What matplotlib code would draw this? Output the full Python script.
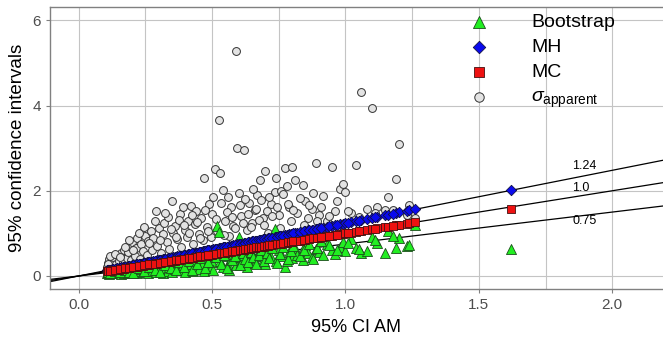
import numpy as np
import matplotlib
matplotlib.use('Agg')
import matplotlib.pyplot as plt
from matplotlib.ticker import MultipleLocator

plt.rcParams['font.family'] = ['Liberation Sans', 'DejaVu Sans']
plt.rcParams['mathtext.fontset'] = 'custom'
plt.rcParams['mathtext.rm'] = 'Liberation Sans'
plt.rcParams['mathtext.it'] = 'Liberation Sans:italic'

# 95% CI AM (one value per data set)
ci_am = [0.105, 0.11, 0.115, 0.12, 0.125, 0.13, 0.14, 0.145, 0.15, 0.16, 0.165, 0.17, 0.18, 0.185, 0.19, 0.195,
         0.20, 0.21, 0.215, 0.22, 0.23, 0.235, 0.24, 0.25, 0.255, 0.26, 0.27, 0.275, 0.28, 0.29, 0.295,
         0.30, 0.31, 0.315, 0.32, 0.33, 0.335, 0.34, 0.35, 0.355, 0.36, 0.37, 0.38, 0.385, 0.39,
         0.40, 0.405, 0.41, 0.42, 0.43, 0.435, 0.44, 0.45, 0.46, 0.465, 0.47, 0.48, 0.49, 0.495,
         0.50, 0.505, 0.51, 0.52, 0.525, 0.53, 0.54, 0.55, 0.56, 0.565, 0.57, 0.58, 0.59, 0.595,
         0.60, 0.61, 0.62, 0.63, 0.64, 0.65, 0.66, 0.67, 0.68, 0.69,
         0.70, 0.71, 0.72, 0.735, 0.74, 0.75, 0.76, 0.775, 0.78, 0.79,
         0.80, 0.81, 0.82, 0.84, 0.85, 0.86, 0.875, 0.89,
         0.90, 0.915, 0.93, 0.95, 0.96, 0.98, 0.99,
         1.00, 1.02, 1.04, 1.06, 1.08, 1.10,
         1.12, 1.15, 1.16, 1.19, 1.20, 1.23, 1.24, 1.26,
         1.62,
         0.112, 0.118, 0.135, 0.155, 0.175, 0.188, 0.205, 0.225, 0.245, 0.265,
         0.285, 0.305, 0.325, 0.345, 0.365, 0.375, 0.395, 0.415, 0.425, 0.445,
         0.455, 0.475, 0.485, 0.515, 0.535, 0.545, 0.555, 0.575, 0.585, 0.605,
         0.615, 0.625, 0.635, 0.645, 0.655, 0.665, 0.675, 0.685, 0.695, 0.705,
         0.715, 0.725, 0.745, 0.755, 0.765, 0.785, 0.795, 0.805, 0.83, 0.845,
         0.865, 0.88, 0.895, 0.91, 0.94, 0.97, 1.01, 1.05, 1.11, 1.18]

bootstrap = [0.06, 0.09, 0.05, 0.08, 0.10, 0.06, 0.09, 0.07, 0.11, 0.05, 0.10, 0.08, 0.12, 0.06, 0.09, 0.13,
             0.07, 0.11, 0.15, 0.06, 0.12, 0.17, 0.09, 0.14, 0.20, 0.07, 0.16, 0.11, 0.22, 0.09, 0.18,
             0.13, 0.24, 0.08, 0.19, 0.27, 0.12, 0.21, 0.10, 0.29, 0.16, 0.23, 0.31, 0.14, 0.26,
             0.09, 0.33, 0.20, 0.28, 0.12, 0.35, 0.24, 0.17, 0.38, 0.30, 0.11, 0.26, 0.41, 0.19,
             0.33, 0.14, 0.44, 1.18, 1.03, 0.36, 0.22, 0.47, 0.29, 0.15, 0.40, 0.52, 0.25, 0.44,
             0.92, 0.34, 0.49, 0.20, 0.42, 0.55, 0.30, 0.47, 0.58, 0.37,
             0.27, 0.52, 0.44, 1.10, 0.35, 0.60, 0.48, 0.22, 0.35, 0.56,
             0.42, 0.66, 0.50, 0.38, 0.72, 0.55, 0.45, 0.63,
             0.57, 0.49, 0.76, 0.61, 0.52, 0.69, 0.80,
             0.58, 0.86, 0.66, 0.55, 0.58, 0.92,
             0.78, 0.55, 1.05, 0.66, 0.88, 0.70, 0.73, 1.20,
             0.63,
             0.10, 0.07, 0.12, 0.09, 0.14, 0.10, 0.08, 0.18, 0.12, 0.21,
             0.15, 0.10, 0.25, 0.18, 0.13, 0.32, 0.22, 0.36, 0.15, 0.27,
             0.42, 0.19, 0.34, 0.45, 0.28, 0.50, 0.18, 0.38, 0.48, 0.26,
             0.53, 0.40, 0.32, 0.57, 0.45, 0.28, 0.50, 0.62, 0.36, 0.55,
             0.43, 0.66, 0.30, 0.52, 0.68, 0.40, 0.58, 0.70, 0.47, 0.62,
             0.74, 0.40, 0.66, 0.82, 0.72, 0.60, 0.78, 0.64, 0.85, 0.95]

mh = [0.13, 0.14, 0.14, 0.15, 0.16, 0.16, 0.17, 0.18, 0.19, 0.20, 0.21, 0.21, 0.22, 0.23, 0.24, 0.24,
      0.25, 0.26, 0.27, 0.27, 0.29, 0.29, 0.30, 0.31, 0.32, 0.32, 0.33, 0.34, 0.35, 0.36, 0.37,
      0.37, 0.38, 0.39, 0.40, 0.41, 0.42, 0.42, 0.43, 0.44, 0.45, 0.46, 0.47, 0.48, 0.48,
      0.50, 0.50, 0.51, 0.52, 0.53, 0.54, 0.55, 0.56, 0.57, 0.58, 0.58, 0.60, 0.61, 0.61,
      0.62, 0.63, 0.63, 0.64, 0.65, 0.66, 0.67, 0.68, 0.69, 0.70, 0.71, 0.72, 0.73, 0.74,
      0.74, 0.76, 0.77, 0.78, 0.79, 0.81, 0.82, 0.83, 0.84, 0.86,
      0.87, 0.88, 0.89, 0.91, 0.92, 0.93, 0.94, 0.96, 0.97, 0.98,
      0.99, 1.00, 1.02, 1.04, 1.05, 1.07, 1.08, 1.10,
      1.12, 1.13, 1.15, 1.18, 1.19, 1.21, 1.23,
      1.24, 1.27, 1.29, 1.31, 1.34, 1.36,
      1.39, 1.43, 1.44, 1.48, 1.49, 1.52, 1.54, 1.58,
      2.02,
      0.14, 0.15, 0.17, 0.19, 0.22, 0.23, 0.25, 0.28, 0.30, 0.33,
      0.35, 0.38, 0.40, 0.43, 0.45, 0.47, 0.49, 0.51, 0.53, 0.55,
      0.56, 0.59, 0.60, 0.64, 0.66, 0.68, 0.69, 0.71, 0.73, 0.75,
      0.76, 0.78, 0.79, 0.80, 0.81, 0.83, 0.84, 0.85, 0.86, 0.87,
      0.89, 0.90, 0.92, 0.94, 0.95, 0.97, 0.99, 1.00, 1.03, 1.05,
      1.07, 1.09, 1.11, 1.13, 1.17, 1.20, 1.25, 1.30, 1.38, 1.46]

mc = [0.11, 0.11, 0.12, 0.12, 0.13, 0.13, 0.14, 0.15, 0.15, 0.16, 0.17, 0.17, 0.18, 0.19, 0.19, 0.20,
      0.20, 0.21, 0.22, 0.22, 0.23, 0.24, 0.24, 0.25, 0.26, 0.26, 0.27, 0.28, 0.28, 0.29, 0.30,
      0.30, 0.31, 0.32, 0.32, 0.33, 0.34, 0.34, 0.35, 0.36, 0.36, 0.37, 0.38, 0.39, 0.39,
      0.40, 0.41, 0.41, 0.42, 0.43, 0.44, 0.44, 0.45, 0.46, 0.47, 0.47, 0.48, 0.49, 0.50,
      0.50, 0.51, 0.51, 0.52, 0.53, 0.53, 0.54, 0.55, 0.56, 0.57, 0.57, 0.58, 0.59, 0.60,
      0.60, 0.61, 0.62, 0.63, 0.64, 0.65, 0.66, 0.67, 0.68, 0.69,
      0.70, 0.71, 0.72, 0.74, 0.74, 0.75, 0.76, 0.78, 0.78, 0.79,
      0.80, 0.81, 0.82, 0.84, 0.85, 0.86, 0.88, 0.89,
      0.90, 0.92, 0.93, 0.95, 0.96, 0.98, 0.99,
      1.00, 1.02, 1.04, 1.06, 1.08, 1.10,
      1.12, 1.15, 1.16, 1.19, 1.20, 1.23, 1.24, 1.27,
      1.57,
      0.11, 0.12, 0.14, 0.16, 0.18, 0.19, 0.21, 0.23, 0.25, 0.27,
      0.29, 0.31, 0.33, 0.35, 0.37, 0.38, 0.40, 0.42, 0.43, 0.45,
      0.46, 0.48, 0.49, 0.52, 0.54, 0.55, 0.56, 0.58, 0.59, 0.61,
      0.62, 0.63, 0.64, 0.65, 0.66, 0.67, 0.68, 0.69, 0.70, 0.71,
      0.72, 0.73, 0.75, 0.76, 0.77, 0.79, 0.80, 0.81, 0.83, 0.85,
      0.87, 0.88, 0.90, 0.91, 0.94, 0.97, 1.01, 1.05, 1.11, 1.18]

sigma_apparent = [0.22, 0.31, 0.40, 0.26, 0.35, 0.45, 0.28, 0.50, 0.36, 0.55, 0.32, 0.62, 0.42, 0.57, 0.70, 0.38,
                  0.79, 0.48, 0.66, 0.88, 0.41, 0.74, 0.58, 0.95, 0.50, 0.83, 1.05, 0.62, 0.90, 1.53, 0.71,
                  1.12, 0.55, 0.98, 1.25, 0.79, 1.38, 0.63, 1.77, 1.02, 1.18, 0.86, 1.45, 0.68, 1.63,
                  1.08, 0.92, 1.30, 1.64, 0.75, 1.22, 1.52, 0.98, 1.36, 0.84, 2.30, 1.15, 1.70, 0.92,
                  1.45, 1.86, 2.50, 1.05, 3.65, 2.41, 2.02, 1.28, 1.86, 0.95, 1.62, 1.18, 5.27, 3.01,
                  1.94, 1.40, 2.95, 1.08, 1.72, 1.25, 1.55, 1.91, 2.26, 1.35,
                  2.46, 1.02, 1.68, 1.98, 2.29, 1.44, 2.00, 2.54, 2.10, 1.62,
                  2.56, 2.25, 1.48, 2.14, 1.75, 1.35, 1.58, 2.64,
                  1.42, 1.88, 1.30, 2.56, 1.52, 2.04, 2.15,
                  1.96, 1.48, 2.61, 4.32, 1.58, 3.94,
                  1.63, 1.55, 1.86, 2.28, 3.09, 1.42, 1.67, 1.35,
                  np.nan,
                  0.28, 0.46, 0.52, 0.44, 0.68, 0.84, 0.60, 1.00, 1.15, 0.77,
                  1.28, 0.85, 1.48, 1.10, 0.92, 1.32, 1.20, 1.00, 1.42, 1.26,
                  0.88, 1.56, 1.06, 1.34, 1.72, 0.96, 1.50, 1.38, 1.12, 1.66,
                  1.25, 1.80, 1.46, 1.15, 2.05, 1.58, 1.32, 1.78, 1.20, 1.52,
                  1.85, 1.40, 1.62, 1.12, 1.92, 1.70, 1.28, 1.55, 1.82, 1.20,
                  1.66, 1.95, 1.30, 1.62, 1.40, 1.75, 1.52, 1.38, 1.48, 1.56]

# reference slopes through the origin
slopes = [1.24, 1.0, 0.75]
slope_labels = ['1.24', '1.0', '0.75']
slope_label_x = [1.894, 1.881, 1.898]
slope_label_y = [2.58, 2.07, 1.29]

fig = plt.figure(figsize=(6.63, 3.39), dpi=100)
ax = fig.add_axes([0.0754, 0.1475, 0.9246, 0.8304])

xlim = (-0.107, 2.19)
ylim = (-0.305, 6.30)

ax.set_axisbelow(True)
ax.xaxis.set_major_locator(MultipleLocator(0.5))
ax.xaxis.set_minor_locator(MultipleLocator(0.25))
ax.yaxis.set_major_locator(MultipleLocator(2))
ax.grid(which='major', color='#c4c4c4', lw=0.8)
ax.grid(which='minor', axis='x', color='#c4c4c4', lw=0.8)

xx = np.array(xlim)
for s in slopes:
    ax.plot(xx, s * xx, color='black', lw=0.9, zorder=1.5)
for lab, lx, ly in zip(slope_labels, slope_label_x, slope_label_y):
    ax.text(lx, ly, lab, fontsize=9, ha='center', va='center')

ax.scatter(ci_am, sigma_apparent, marker='o', s=32, facecolor='#e3e3e3', edgecolor='#333333',
           linewidth=0.7, zorder=2, label=r'$\sigma_{\mathrm{apparent}}$')
ax.scatter(ci_am, bootstrap, marker='^', s=52, facecolor='#22ee22', edgecolor='#1a4d1a',
           linewidth=0.6, zorder=3, label='Bootstrap')
ax.scatter(ci_am, mh, marker='D', s=28, facecolor='#0a0aee', edgecolor='#111144',
           linewidth=0.6, zorder=4, label='MH')
ax.scatter(ci_am, mc, marker='s', s=30, facecolor='#ee1111', edgecolor='#441111',
           linewidth=0.6, zorder=5, label='MC')

ax.set_xlim(xlim)
ax.set_ylim(ylim)

for side in ['top', 'left', 'bottom']:
    ax.spines[side].set_color('#808080')
    ax.spines[side].set_linewidth(1.0)
ax.spines['right'].set_visible(False)
ax.tick_params(which='major', colors='#808080', labelcolor='#4d4d4d', labelsize=11, length=3)
ax.tick_params(which='minor', length=0)
ax.set_xticks([0.0, 0.5, 1.0, 1.5, 2.0])
ax.set_xticklabels(['0.0', '0.5', '1.0', '1.5', '2.0'])

ax.set_xlabel('95% CI AM', fontsize=13, labelpad=5)
ax.set_ylabel('95% confidence intervals', fontsize=13.5, labelpad=5)

handles, labels = ax.get_legend_handles_labels()
order = [1, 2, 3, 0]
ax.legend([handles[i] for i in order], [labels[i] for i in order],
          loc='upper left', bbox_to_anchor=(469 / 663, 1.0 - 13 / 339),
          bbox_transform=fig.transFigure, frameon=False, fontsize=14,
          handlelength=1.0, handletextpad=2.2, borderpad=0, borderaxespad=0,
          labelspacing=0.38, markerscale=1.2)

fig.savefig('out.png', dpi=100)
